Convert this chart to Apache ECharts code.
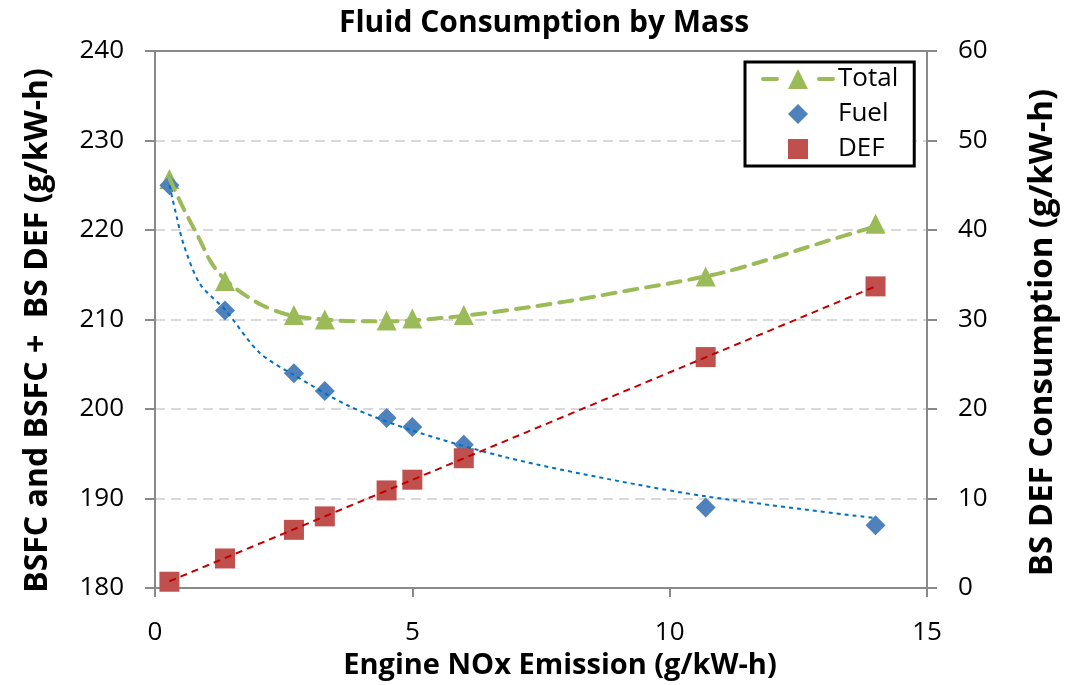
<!DOCTYPE html>
<html>
<head>
<meta charset="utf-8">
<script src="https://cdn.jsdelivr.net/npm/echarts@6/dist/echarts.min.js"></script>
<style>
html,body{margin:0;padding:0;background:#fff;}
#chart{width:1067px;height:685px;}
</style>
</head>
<body>
<div id="chart"></div>
<script>
// ---- Data ----
const noxX   = [0.28, 1.36, 2.7, 3.3, 4.5, 5.0, 6.0, 10.7, 14.0];
const totalY = [225.7, 214.3, 210.5, 210.0, 209.9, 210.1, 210.5, 214.8, 220.7];
const fuelY  = [225, 211, 204, 202, 199, 198, 196, 189, 187];
const defY   = [0.7, 3.3, 6.5, 8.0, 10.9, 12.1, 14.5, 25.8, 33.7];

// Trend lines
const totalTrendX = [0.28, 0.52, 0.87, 1.10, 1.36, 1.84, 2.28, 2.7, 3.3, 3.9, 4.5, 5.45, 6.54, 7.97, 9.25, 10.42, 11.33, 13.13, 14.0];
const totalTrendY = [225.8, 222.8, 218.9, 216.3, 214.5, 212.4, 211.1, 210.4, 210.0, 209.8, 209.8, 210.1, 210.8, 212.0, 213.3, 214.5, 215.7, 218.9, 220.4];
const fuelTrendX  = [0.28, 0.42, 0.55, 0.87, 1.36, 2.03, 2.7, 3.78, 5.0, 6.82, 8.87, 10.75, 14.0];
const fuelTrendY  = [225.0, 221.5, 218.5, 214.0, 211.1, 206.3, 203.8, 200.3, 197.6, 194.6, 192.1, 190.2, 187.8];
const defTrendX   = [0.28, 14.0];
const defTrendY   = [0.75, 33.7];

const leftTicks  = [180, 190, 200, 210, 220, 230, 240];
const rightTicks = [0, 10, 20, 30, 40, 50, 60];
const xTicks     = [0, 5, 10, 15];

function pairs(xs, ys) { return xs.map((x, i) => [x, ys[i]]); }

const FONT = "'Open Sans', 'Noto Sans', sans-serif";
const AXIS_GRAY = '#898989';

const chart = echarts.init(document.getElementById('chart'), null, {renderer: 'canvas'});

const option = {
  animation: false,
  backgroundColor: '#ffffff',
  title: {
    text: 'Fluid Consumption by Mass',
    left: 539,
    textAlign: 'center',
    top: 3,
    textStyle: {fontFamily: FONT, fontWeight: 'bold', fontSize: 30, color: '#000'}
  },
  legend: {
    left: 745,
    top: 62,
    orient: 'vertical',
    itemWidth: 70,
    itemHeight: 25,
    itemGap: 9,
    padding: [4, 16, 4, 16],
    borderColor: '#000',
    borderWidth: 3,
    backgroundColor: '#fff',
    textStyle: {fontFamily: FONT, fontSize: 26, color: '#000'},
    data: [
      {name: 'Total', lineStyle: {opacity: 1, width: 4, color: '#9BBB59', type: [14, 42], cap: 'round'}},
      {name: 'Fuel', lineStyle: {opacity: 0, width: 0}},
      {name: 'DEF', lineStyle: {opacity: 0, width: 0}}
    ]
  },
  grid: {
    left: 155, right: 138, top: 51, bottom: 97,
    show: true, borderColor: AXIS_GRAY, borderWidth: 2, backgroundColor: 'transparent'
  },
  xAxis: {
    type: 'value', min: xTicks[0], max: xTicks[xTicks.length - 1], interval: 5,
    name: 'Engine NOx Emission (g/kW-h)',
    nameLocation: 'middle', nameGap: 57,
    nameTextStyle: {fontFamily: FONT, fontWeight: 'bold', fontSize: 29, color: '#000', padding: [0, 0, 0, 38]},
    axisLine: {show: true, onZero: false, lineStyle: {color: AXIS_GRAY, width: 2}},
    axisTick: {show: true, length: 9, lineStyle: {color: AXIS_GRAY, width: 2}},
    axisLabel: {fontFamily: FONT, fontSize: 26, color: '#000', margin: 32},
    splitLine: {show: false}
  },
  yAxis: [
    {
      type: 'value', min: leftTicks[0], max: leftTicks[leftTicks.length - 1], interval: 10,
      position: 'left',
      name: 'BSFC and BSFC +  BS DEF (g/kW-h)',
      nameLocation: 'middle', nameGap: 101, nameRotate: 90,
      nameTextStyle: {fontFamily: FONT, fontWeight: 'bold', fontSize: 32, color: '#000', padding: [0, 22, 0, 0]},
      axisLine: {show: true, lineStyle: {color: AXIS_GRAY, width: 2}},
      axisTick: {show: true, length: 10, lineStyle: {color: AXIS_GRAY, width: 2}},
      axisLabel: {fontFamily: FONT, fontSize: 26, color: '#000', margin: 31},
      splitLine: {show: true, showMinLine: false, showMaxLine: false, lineStyle: {color: '#D9D9D9', width: 2, type: [10, 6]}}
    },
    {
      type: 'value', min: rightTicks[0], max: rightTicks[rightTicks.length - 1], interval: 10,
      position: 'right',
      name: 'BS DEF Consumption (g/kW-h)',
      nameLocation: 'middle', nameGap: 99, nameRotate: 90,
      nameTextStyle: {fontFamily: FONT, fontWeight: 'bold', fontSize: 33, color: '#000', padding: [0, 26, 0, 0]},
      axisLine: {show: true, lineStyle: {color: AXIS_GRAY, width: 2}},
      axisTick: {show: true, length: 10, lineStyle: {color: AXIS_GRAY, width: 2}},
      axisLabel: {fontFamily: FONT, fontSize: 26, color: '#000', margin: 31},
      splitLine: {show: false}
    }
  ],
  series: [
    {
      name: 'Total', type: 'line', yAxisIndex: 0,
      data: pairs(noxX, totalY),
      symbol: 'triangle', symbolSize: 20, showSymbol: true,
      lineStyle: {width: 0, opacity: 0},
      itemStyle: {color: '#9BBB59'},
      z: 3
    },
    {
      name: 'Fuel', type: 'line', yAxisIndex: 0,
      data: pairs(noxX, fuelY),
      symbol: 'diamond', symbolSize: 20, showSymbol: true,
      lineStyle: {width: 0, opacity: 0},
      itemStyle: {color: '#4F81BD'},
      z: 4
    },
    {
      name: 'DEF', type: 'line', yAxisIndex: 1,
      data: pairs(noxX, defY),
      symbol: 'rect', symbolSize: 20, showSymbol: true,
      lineStyle: {width: 0, opacity: 0},
      itemStyle: {color: '#C0504D'},
      z: 5
    },
    {
      name: 'Total trend', type: 'line', yAxisIndex: 0,
      data: pairs(totalTrendX, totalTrendY),
      smooth: 0.4, showSymbol: false, silent: true,
      lineStyle: {color: '#9BBB59', width: 4, type: [13, 9], cap: 'round'},
      z: 6
    },
    {
      name: 'Fuel trend', type: 'line', yAxisIndex: 0,
      data: pairs(fuelTrendX, fuelTrendY),
      smooth: 0.3, showSymbol: false, silent: true,
      lineStyle: {color: '#0070C0', width: 2, type: [4, 4]},
      z: 7
    },
    {
      name: 'DEF trend', type: 'line', yAxisIndex: 1,
      data: pairs(defTrendX, defTrendY),
      showSymbol: false, silent: true,
      lineStyle: {color: '#C00000', width: 2, type: [7, 5]},
      z: 8
    }
  ]
};
chart.setOption(option);
</script>
</body>
</html>
